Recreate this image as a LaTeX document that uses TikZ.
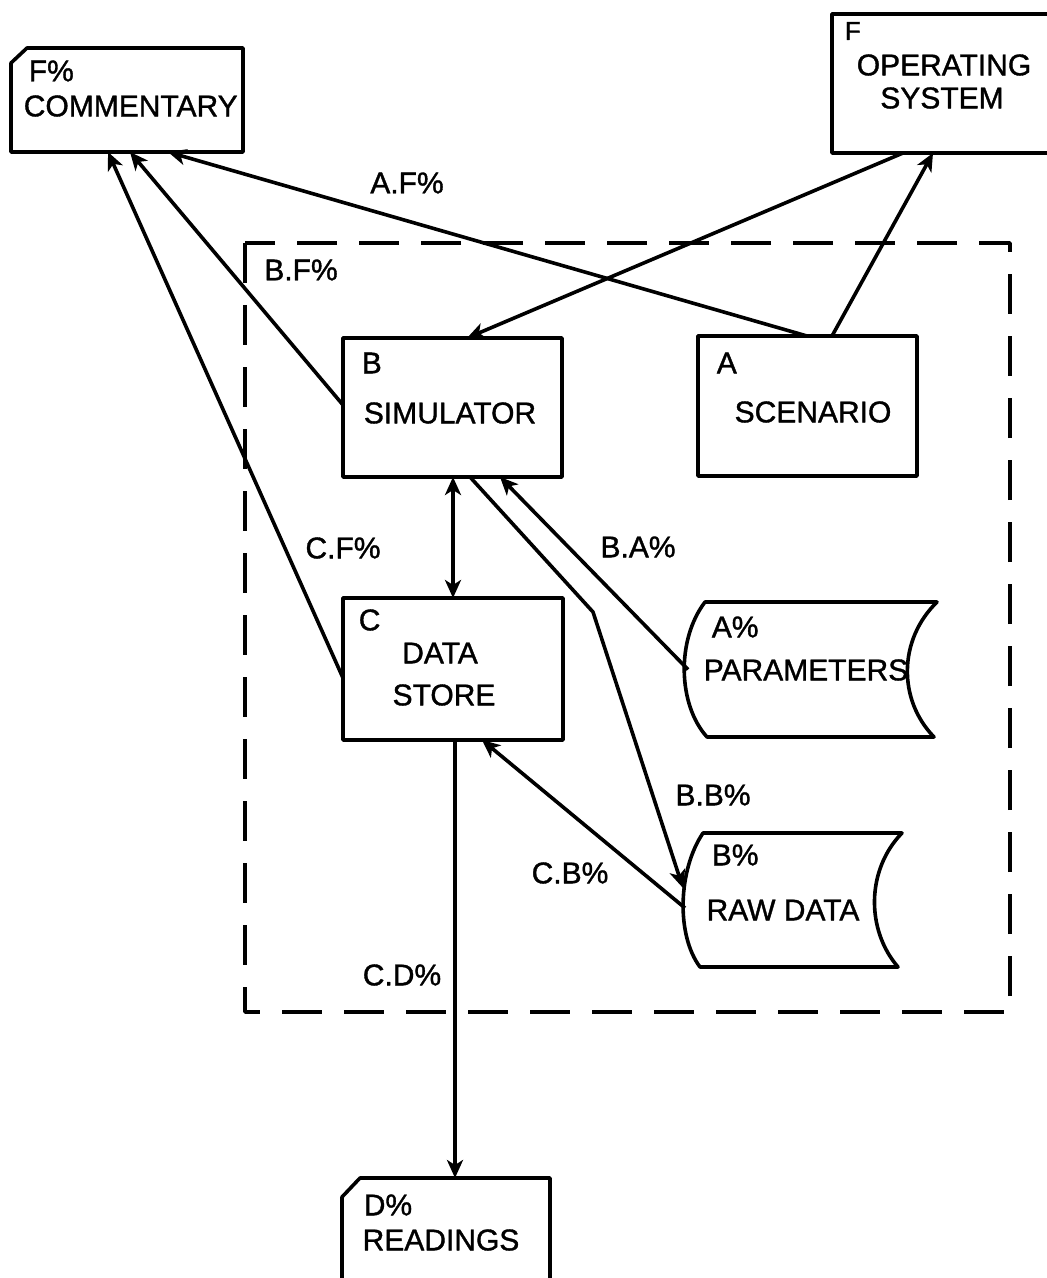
\documentclass[tikz,border=0pt]{standalone}
\usepackage{fontspec}
\setmainfont[FakeBold=1.2]{Liberation Sans}
\usetikzlibrary{arrows.meta,calc,fit}
\begin{document}
\begin{tikzpicture}[x=0.5pt,y=-0.5pt,
  line width=1.8pt, line join=round,
  box/.style={draw,rectangle,inner sep=0pt,outer sep=0pt,line width=1.8pt},
  hid/.style={rectangle,inner sep=0pt,outer sep=0pt},
  txt/.style={inner sep=0pt,font=\fontsize{15}{18}\selectfont},
  small/.style={inner sep=0pt,font=\fontsize{13}{16}\selectfont},
  conn/.style={line width=1.8pt,-{Stealth[length=9pt,width=8pt,inset=2.5pt]}},
  frame/.style={dash pattern=on 20pt off 11pt,line width=1.8pt}]
\fill[white] (0,0) rectangle (1047,1278);
\useasboundingbox (0,0) rectangle (1047,1278);

% dashed boundary
\draw[frame] (245,243) rectangle (1010,1012);

% COMMENTARY
\node[hid, fit={(11,48) (243,152)}] (COM) {};
\draw ($(COM.north west)+(0,15)$) -- ($(COM.north west)+(16,0)$) -- (COM.north east) -- (COM.south east) -- (COM.south west) -- cycle;
\node[txt, anchor=west] (comA) at (27,71) {F\%};
\node[txt, anchor=west] (comB) at (22,106) {COMMENTARY};

% OPERATING SYSTEM
\node[box, fit={(832,14) (1070,153)}] (OS) {};
\node[small, anchor=west] (osA) at (843,31) {F};
\node[txt] (osB) at (944,65) {OPERATING};
\node[txt] (osC) at (942,98) {SYSTEM};

% SIMULATOR
\node[box, fit={(343,338) (562,477)}] (SIM) {};
\node[txt, anchor=west] (simA) at (360,363) {B};
\node[txt] (simB) at (450,413) {SIMULATOR};

% SCENARIO
\node[box, fit={(698,336) (917,476)}] (SCN) {};
\node[txt, anchor=west] (scnA) at (715,363) {A};
\node[txt] (scnB) at (813,412) {SCENARIO};

% DATA STORE
\node[box, fit={(343,598) (563,740)}] (DS) {};
\node[txt, anchor=west] (dsA) at (357,620) {C};
\node[txt] (dsB) at (440,653) {DATA};
\node[txt] (dsC) at (444,695) {STORE};

% PARAMETERS
\node[hid, fit={(685,602) (937,737)}] (PAR) {};
\draw (705,602) -- (937,602) .. controls (898,640) and (898,700) .. (934,737) -- (707,737) .. controls (678,705) and (676,640) .. (705,602) -- cycle;
\node[txt, anchor=west] (parA) at (710,627) {A\%};
\node[txt] (parB) at (806,670) {PARAMETERS};

% RAW DATA
\node[hid, fit={(685,833) (902,967)}] (RAW) {};
\draw (703,833) -- (902,833) .. controls (866,870) and (866,930) .. (898,967) -- (700,967) .. controls (676,935) and (678,870) .. (703,833) -- cycle;
\node[txt, anchor=west] (rawA) at (710,855) {B\%};
\node[txt] (rawB) at (783,910) {RAW DATA};

% READINGS
\node[hid, fit={(342,1178) (550,1300)}] (RD) {};
\draw (RD.south west) -- ($(RD.north west)+(0,19)$) -- ($(RD.north west)+(18,0)$) -- (RD.north east) -- (RD.south east);
\node[txt, anchor=west] (rdA) at (362,1205) {D\%};
\node[txt] (rdB) at (441,1240) {READINGS};

% connectors
\draw[conn] ($(SCN.north west)+(109,0)$) -- ($(COM.south west)+(157,0)$);
\draw[conn] ($(OS.south west)+(71,0)$) -- ($(SIM.north west)+(124,0)$);
\draw[conn] ($(SCN.north west)+(134,0)$) -- ($(OS.south west)+(101,0)$);
\draw[conn] ($(SIM.north west)+(0,67)$) -- ($(COM.south west)+(119,0)$);
\draw[conn] ($(DS.north west)+(0,80)$) -- ($(COM.south west)+(97,0)$);
\draw[{Stealth[length=9pt,width=8pt,inset=2.5pt]}-{Stealth[length=9pt,width=8pt,inset=2.5pt]}] ($(SIM.south west)+(110,0)$) -- ($(DS.north west)+(110,0)$);
\draw[conn] ($(PAR.west)+(3,0)$) -- ($(SIM.south west)+(157,0)$);
\coordinate (bend) at (593,612);
\draw[conn] ($(SIM.south west)+(127,0)$) -- (bend) -- ($(RAW.west)+(-2,-12)$);
\draw[conn] ($(RAW.west)+(0,8)$) -- ($(DS.south west)+(139,0)$);
\draw[conn] ($(DS.south west)+(112,0)$) -- ($(RD.north west)+(113,0)$);

% labels
\node[txt] (lAF) at (407,183) {A.F\%};
\node[txt] (lBF) at (301,270) {B.F\%};
\node[txt] (lCF) at (343,548) {C.F\%};
\node[txt] (lBA) at (638,547) {B.A\%};
\node[txt] (lBB) at (713,795) {B.B\%};
\node[txt] (lCB) at (570,873) {C.B\%};
\node[txt] (lCD) at (402,975) {C.D\%};
\end{tikzpicture}
\end{document}
